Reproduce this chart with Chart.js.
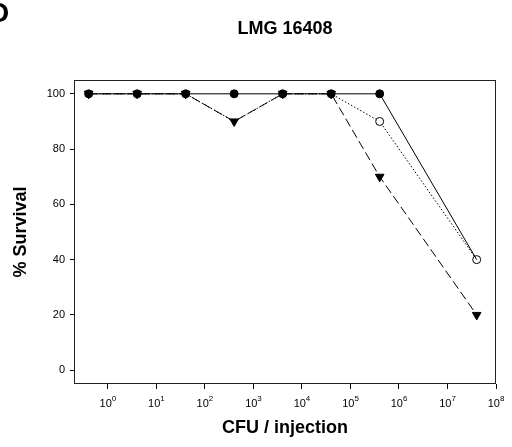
<!DOCTYPE html>
<html>
<head>
<meta charset="utf-8">
<script src="https://cdn.jsdelivr.net/npm/chart.js@4/dist/chart.umd.min.js"></script>
<style>
  html, body { margin: 0; padding: 0; background: #fff; }
  #chart { display: block; }
</style>
</head>
<body>
<canvas id="chart" width="512" height="447"></canvas>
<script>
'use strict';

// CFU per injection
var doses = [0.4, 4, 40, 400, 4000, 40000, 400000, 40000000]

// % survival, three series
var survivalSolid = [100, 100, 100, 100, 100, 100, 100, 40]
var survivalDotted = [100, 100, 100, 90, 100, 100, 90, 40]
var survivalDashed = [100, 100, 100, 90, 100, 100, 70, 20]

var xTickExponents = [0, 1, 2, 3, 4, 5, 6, 7, 8]
var yTickValues = [0, 20, 40, 60, 80, 100]

var fontFamily = 'Arial, "Liberation Sans", Helvetica, sans-serif'

function points(ys) {
    var out = []
    for (var i = 0; i < doses.length; i++) {
        out.push({ x: doses[i], y: ys[i] })
    }
    return out
}

// hide the solid series' last marker, it sits under the open circle
var solidRadius = survivalSolid.map(function (v, i) { return i == survivalSolid.length - 1 ? 0 : 4 })
// open circles hidden where a triangle sits on the same spot
var dottedRadius = survivalDotted.map(function (v, i) { return v == survivalDashed[i] ? 0 : 4 })

var extras = {
    id: 'extras',
    afterDraw: function (chart) {
        var ctx = chart.ctx
        var a = chart.chartArea
        var xs = chart.scales.x

        ctx.save()
        // frame
        ctx.strokeStyle = '#222'
        ctx.lineWidth = 1
        ctx.strokeRect(a.left + 0.5, a.top + 0.5, a.right - a.left - 1, a.bottom - a.top - 1)

        // x tick labels 10^n
        ctx.fillStyle = '#000'
        ctx.textBaseline = 'alphabetic'
        for (var e of xTickExponents) {
            var px = xs.getPixelForValue(Math.pow(10, e))
            ctx.font = '11px ' + fontFamily
            var w1 = ctx.measureText('10').width
            ctx.font = '8px ' + fontFamily
            var w2 = ctx.measureText(String(e)).width
            var x0 = px - (w1 + w2) / 2
            ctx.font = '11px ' + fontFamily
            ctx.textAlign = 'left'
            ctx.fillText('10', x0, 407)
            ctx.font = '8px ' + fontFamily
            ctx.fillText(String(e), x0 + w1, 401)
        }

        // title
        ctx.font = 'bold 18px ' + fontFamily
        ctx.textAlign = 'center'
        ctx.fillText('LMG 16408', (a.left + a.right) / 2, 34)

        // panel letter, cut at the left edge
        ctx.font = 'bold 28px ' + fontFamily
        ctx.textAlign = 'left'
        ctx.fillText('D', -11, 22)
        ctx.restore()
    }
}

var ctx = document.getElementById('chart').getContext('2d')
new Chart(ctx, {
    type: 'line',
    data: {
        datasets: [{
            data: points(survivalSolid),
            borderColor: '#000',
            borderWidth: 1,
            pointStyle: 'circle',
            pointRadius: solidRadius,
            pointBackgroundColor: '#000',
            pointBorderColor: '#000',
            pointBorderWidth: 1
        }, {
            data: points(survivalDashed),
            borderColor: '#000',
            borderWidth: 1,
            borderDash: [9, 4],
            pointStyle: 'triangle',
            rotation: 180,
            pointRadius: 5,
            pointBackgroundColor: '#000',
            pointBorderColor: '#000',
            pointBorderWidth: 1
        }, {
            data: points(survivalDotted),
            borderColor: '#000',
            borderWidth: 1,
            borderDash: [1.5, 2],
            pointStyle: 'circle',
            pointRadius: dottedRadius,
            pointBackgroundColor: '#fff',
            pointBorderColor: '#000',
            pointBorderWidth: 1
        }]
    },
    options: {
        responsive: false,
        animation: false,
        layout: { padding: { left: 0, right: 16, top: 80, bottom: 0 } },
        plugins: {
            legend: { display: false },
            tooltip: { enabled: false },
            title: { display: false }
        },
        scales: {
            x: {
                type: 'logarithmic',
                min: Math.pow(10, -0.7),
                max: 1e8,
                afterFit: function (scale) { scale.height = 63 },
                afterBuildTicks: function (scale) {
                    scale.ticks = xTickExponents.map(function (e) { return { value: Math.pow(10, e), major: true } })
                },
                grid: { display: true, drawOnChartArea: false, drawTicks: true, tickLength: 5, color: '#000' },
                border: { display: false },
                ticks: { display: false },
                title: {
                    display: true,
                    text: 'CFU / injection',
                    color: '#000',
                    font: { family: fontFamily, size: 18, weight: 'bold' },
                    padding: { top: 0, bottom: 8 }
                }
            },
            y: {
                min: -5,
                max: 105,
                afterFit: function (scale) { scale.width = 74 },
                afterBuildTicks: function (scale) {
                    scale.ticks = yTickValues.map(function (v) { return { value: v } })
                },
                grid: { display: true, drawOnChartArea: false, drawTicks: true, tickLength: 4, color: '#000' },
                border: { display: false },
                ticks: {
                    color: '#000',
                    padding: 5,
                    font: { family: fontFamily, size: 11 }
                },
                title: {
                    display: true,
                    text: '% Survival',
                    color: '#000',
                    font: { family: fontFamily, size: 18, weight: 'bold' },
                    padding: { top: 10, bottom: 0 }
                }
            }
        }
    },
    plugins: [extras]
})
</script>
</body>
</html>
